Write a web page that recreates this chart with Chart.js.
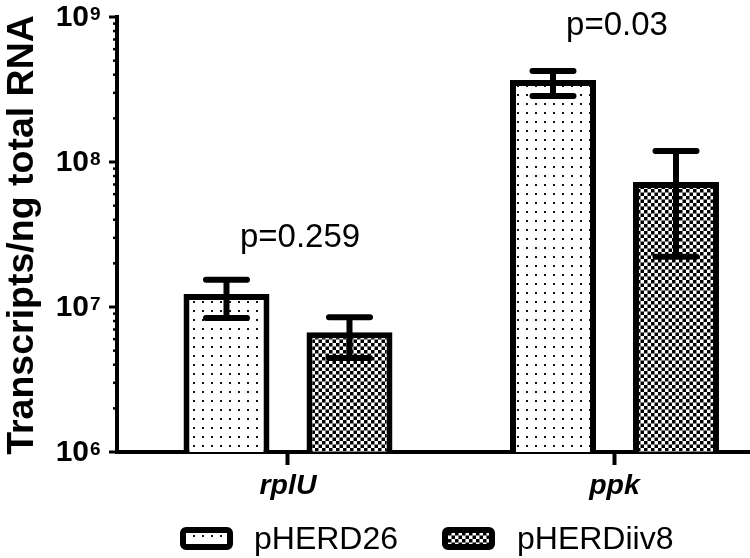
<!DOCTYPE html>
<html>
<head>
<meta charset="utf-8">
<script src="https://cdn.jsdelivr.net/npm/chart.js@4"></script>
<style>
  html, body { margin: 0; padding: 0; background: #fff; overflow: hidden; }
  canvas { display: block; }
</style>
</head>
<body>
<canvas id="chart" width="750" height="558"></canvas>
<script>
// values
const categories = ["rplU", "ppk"];
const seriesNames = ["pHERD26", "pHERDiiv8"];
const pherd26Mean = [1.23e7, 3.68e8];
const pherd26Upper = [1.54e7, 4.24e8];
const pherd26Lower = [8.4e6, 2.85e8];
const pherdiiv8Mean = [6.7e6, 7.28e7];
const pherdiiv8Upper = [8.5e6, 1.19e8];
const pherdiiv8Lower = [4.45e6, 2.22e7];
const yExponents = [6, 7, 8, 9];
const pLabels = ["p=0.259", "p=0.03"];
const pLabelValues = [2.99e7, 8.67e8];

const FONT = "'Liberation Sans', Arial, Helvetica, sans-serif";

// fill patterns
function dotPattern() {
    const c = document.createElement("canvas");
    c.width = 9; c.height = 9;
    const g = c.getContext("2d");
    g.fillStyle = "#fff"; g.fillRect(0, 0, 9, 9);
    g.fillStyle = "#111"; g.fillRect(4, 4, 2, 2);
    return g.createPattern(c, "repeat");
}
function checkPattern() {
    const c = document.createElement("canvas");
    c.width = 7; c.height = 7;
    const g = c.getContext("2d");
    g.fillStyle = "#fff"; g.fillRect(0, 0, 7, 7);
    g.fillStyle = "#000";
    g.fillRect(0, 0, 3.5, 3.5);
    g.fillRect(3.5, 3.5, 3.5, 3.5);
    return g.createPattern(c, "repeat");
}
const ctx = document.getElementById("chart").getContext("2d");
const patterns = [dotPattern(), checkPattern()];
const errUpper = [pherd26Upper, pherdiiv8Upper];
const errLower = [pherd26Lower, pherdiiv8Lower];

const extras = {
    id: "extras",
    afterDatasetsDraw(chart) {
        const c = chart.ctx;
        const y = chart.scales.y;
        c.save();
        c.strokeStyle = "#000";
        c.lineWidth = 6;
        c.lineCap = "round";
        chart.data.datasets.forEach((ds, di) => {
            chart.getDatasetMeta(di).data.forEach((bar, i) => {
                const yt = y.getPixelForValue(errUpper[di][i]);
                const yb = y.getPixelForValue(errLower[di][i]);
                c.beginPath();
                c.moveTo(bar.x, yt); c.lineTo(bar.x, yb);
                c.moveTo(bar.x - 20.5, yt); c.lineTo(bar.x + 20.5, yt);
                c.moveTo(bar.x - 20.5, yb); c.lineTo(bar.x + 20.5, yb);
                c.stroke();
            });
        });
        c.restore();
    },
    afterDraw(chart) {
        const c = chart.ctx;
        const y = chart.scales.y;
        const left = chart.chartArea.left;
        c.save();
        c.fillStyle = "#000";
        c.strokeStyle = "#000";
        // y ticks with superscript labels
        yExponents.forEach((e, k) => {
            const py = y.getPixelForValue(Math.pow(10, e));
            c.lineWidth = 3;
            c.beginPath(); c.moveTo(left - 8, py); c.lineTo(left, py); c.stroke();
            c.font = "bold 30px " + FONT;
            c.textAlign = "right"; c.textBaseline = "middle";
            c.fillText("10", 89, py + 1);
            c.font = "bold 19px " + FONT;
            c.textAlign = "left"; c.textBaseline = "top";
            c.fillText(String(e), 90, py - 12);
            if (k < yExponents.length - 1) {
                for (let m = 2; m <= 9; m++) {
                    const pm = y.getPixelForValue(m * Math.pow(10, e));
                    c.lineWidth = 2.5;
                    c.beginPath(); c.moveTo(left - 4, pm); c.lineTo(left, pm); c.stroke();
                }
            }
        });
        // y title
        c.save();
        c.translate(33, 235);
        c.rotate(-Math.PI / 2);
        c.font = "bold 37.5px " + FONT;
        c.textAlign = "center"; c.textBaseline = "alphabetic";
        c.fillText("Transcripts/ng total RNA", 0, 0);
        c.restore();
        // p values
        c.font = "33px " + FONT;
        c.textAlign = "center"; c.textBaseline = "middle";
        const pX = [300, 617];
        pLabels.forEach((t, i) => c.fillText(t, pX[i], y.getPixelForValue(pLabelValues[i])));
        // legend
        const boxX = [180, 442];
        const textX = [254, 517];
        seriesNames.forEach((name, i) => {
            c.beginPath();
            c.roundRect(boxX[i] + 3, 530, 47, 17, 3);
            c.fillStyle = patterns[i];
            c.fill();
            c.lineWidth = 6;
            c.strokeStyle = "#000";
            c.stroke();
            c.fillStyle = "#000";
            c.font = "32px " + FONT;
            c.textAlign = "left"; c.textBaseline = "alphabetic";
            c.fillText(name, textX[i], 549);
        });
        c.restore();
    }
};

new Chart(ctx, {
    type: "bar",
    data: {
        datasets: [
            {
                label: seriesNames[0],
                data: categories.map((c, i) => ({ x: i + 1, y: pherd26Mean[i] })),
                backgroundColor: patterns[0],
                borderColor: "#000",
                borderWidth: 6,
                borderSkipped: "bottom"
            },
            {
                label: seriesNames[1],
                data: categories.map((c, i) => ({ x: i + 1, y: pherdiiv8Mean[i] })),
                backgroundColor: patterns[1],
                borderColor: "#000",
                borderWidth: 6,
                borderSkipped: "bottom"
            }
        ]
    },
    options: {
        responsive: false,
        animation: false,
        devicePixelRatio: 1,
        categoryPercentage: 0.7534,
        barPercentage: 0.699,
        layout: { padding: { top: 17, left: 0, right: 0, bottom: 0 } },
        plugins: { legend: { display: false }, tooltip: { enabled: false } },
        scales: {
            x: {
                type: "linear",
                min: 0.4763,
                max: 2.415,
                offset: false,
                afterBuildTicks: s => { s.ticks = categories.map((c, i) => ({ value: i + 1 })); },
                afterFit: s => { s.height = 106; },
                ticks: {
                    callback: v => categories[v - 1],
                    color: "#000",
                    font: { family: FONT, size: 28.5, weight: "bold", style: "italic" },
                    padding: 4,
                    maxRotation: 0,
                    autoSkip: false
                },
                grid: { offset: false, drawOnChartArea: false, drawTicks: true, tickLength: 13, tickWidth: 4, tickColor: "#000", color: "#000" },
                border: { display: true, width: 4, color: "#000" }
            },
            y: {
                type: "logarithmic",
                min: 1e6,
                max: 1e9,
                afterFit: s => { s.width = 117; },
                ticks: { display: false },
                grid: { drawOnChartArea: false, drawTicks: false, color: "#000" },
                border: { display: true, width: 4, color: "#000" }
            }
        }
    },
    plugins: [extras]
});
</script>
</body>
</html>
